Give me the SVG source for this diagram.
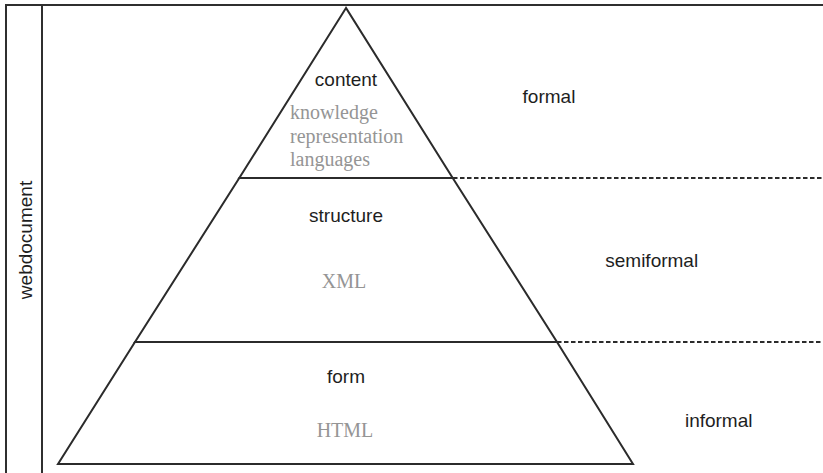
<svg xmlns="http://www.w3.org/2000/svg" width="823" height="473" viewBox="0 0 823 473">
<style>
.shape{fill:none;stroke:#2b2b2b;stroke-width:2;stroke-linejoin:miter}
.frame{fill:none;stroke:#2f2f2f;stroke-width:2}
.dash{fill:none;stroke:#2b2b2b;stroke-width:1.8;stroke-dasharray:4.5 2.5}
.lbl{font-family:"Liberation Sans",Arial,sans-serif;font-size:19px;fill:#1e1e1e}
.sub{font-family:"Liberation Serif","Times New Roman",serif;font-size:20px;fill:#959595}
</style>
<rect width="823" height="473" fill="#fff"/>
<g id="frame">
<line class="frame" x1="5" y1="5" x2="823" y2="5"/>
<line class="frame" x1="6" y1="5" x2="6" y2="473"/>
<line class="frame" x1="42" y1="5" x2="42" y2="473" stroke="#555"/>
</g>
<g id="webdocument">
<text class="lbl" transform="translate(31.5,240) rotate(-90)" text-anchor="middle">webdocument</text>
</g>
<g id="content">
<polygon class="shape" points="346,8 239.3,178 452.7,178"/>
<text class="lbl" x="346" y="86" text-anchor="middle">content</text>
<text class="sub" x="290" y="119.3">knowledge</text>
<text class="sub" x="290" y="142.7">representation</text>
<text class="sub" x="290" y="166">languages</text>
</g>
<g id="structure">
<polygon class="shape" points="239.3,178 452.7,178 557,342 135,342"/>
<text class="lbl" x="346" y="221.7" text-anchor="middle">structure</text>
<text class="sub" x="344" y="287.7" text-anchor="middle">XML</text>
</g>
<g id="form">
<polygon class="shape" points="135,342 557,342 633,464 58,464"/>
<text class="lbl" x="346" y="383.3" text-anchor="middle">form</text>
<text class="sub" x="345" y="437.3" text-anchor="middle">HTML</text>
</g>
<g id="connectors">
<line class="dash" x1="453" y1="178" x2="823" y2="178"/>
<line class="dash" x1="557" y1="342" x2="823" y2="342"/>
</g>
<g id="formal"><text class="lbl" x="549" y="103" text-anchor="middle">formal</text></g>
<g id="semiformal"><text class="lbl" x="651.7" y="267.3" text-anchor="middle">semiformal</text></g>
<g id="informal"><text class="lbl" x="718.7" y="426.7" text-anchor="middle">informal</text></g>
</svg>
